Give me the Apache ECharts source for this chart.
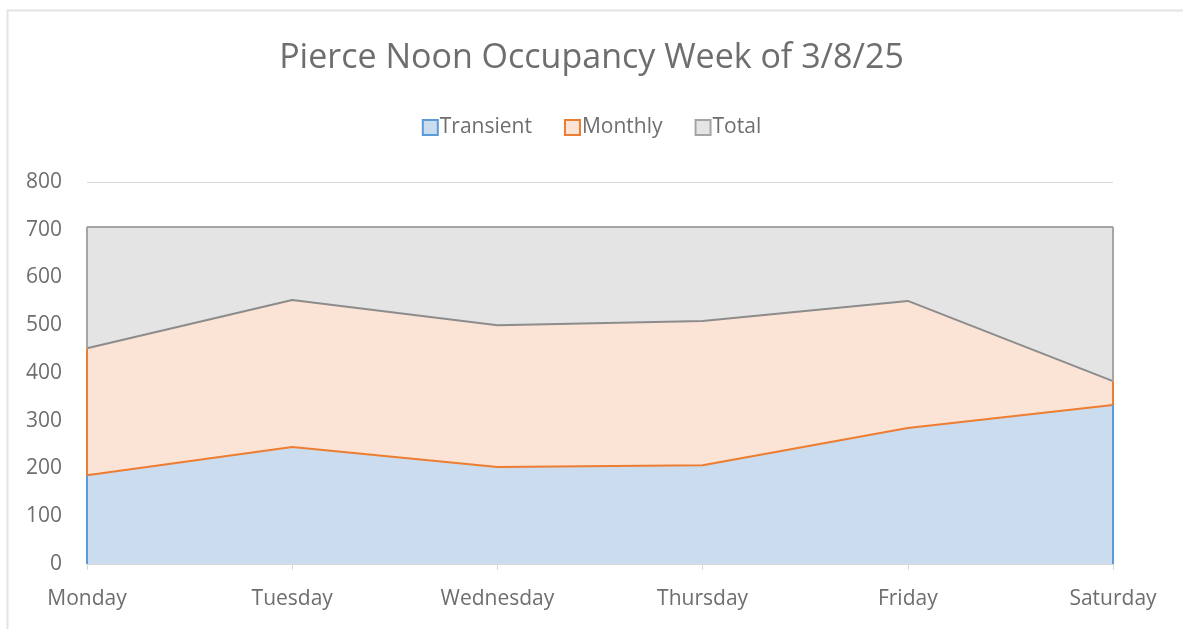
<!DOCTYPE html>
<html>
<head>
<meta charset="utf-8">
<script src="https://cdn.jsdelivr.net/npm/echarts@6/dist/echarts.min.js"></script>
<style>
html,body{margin:0;padding:0;background:#fff;}
#chart{width:1183px;height:629px;}
</style>
</head>
<body>
<div id="chart"></div>
<script>
const categories = ['Monday','Tuesday','Wednesday','Thursday','Friday','Saturday'];
const transient = [186, 245, 203, 207, 285, 333];
const monthly = [266, 308, 297, 302, 266, 50];
const total = [254, 153, 206, 197, 155, 323];
const yTicks = [0,100,200,300,400,500,600,700,800];

const FONT = 'Open Sans';
const last = categories.length - 1;
function edges(lower, upper, color) {
  return {
    silent: true, symbol: ['none','none'], label: {show: false},
    lineStyle: {color: color, width: 2, type: 'solid'},
    data: [
      [{coord: [0, lower[0]]}, {coord: [0, upper[0]]}],
      [{coord: [last, lower[last]]}, {coord: [last, upper[last]]}]
    ]
  };
}
const zero = transient.map(() => 0);
const cum1 = transient.slice();
const cum2 = transient.map((v, i) => v + monthly[i]);
const cum3 = cum2.map((v, i) => v + total[i]);

const chart = echarts.init(document.getElementById('chart'));
chart.setOption({
  animation: false,
  backgroundColor: '#fff',
  graphic: [{
    type: 'rect', left: 5, top: 8, shape: {width: 1300, height: 700},
    style: {fill: 'none', stroke: '#e3e3e3', lineWidth: 2}, silent: true
  }],
  title: {
    text: 'Pierce Noon Occupancy Week of 3/8/25',
    left: 'center', top: 36,
    textStyle: {fontFamily: FONT, fontSize: 34, fontWeight: 'normal', color: '#6e6e6e'}
  },
  legend: {
    top: 112, left: 'center', itemGap: 32, itemWidth: 15, itemHeight: 15,
    icon: 'rect',
    textStyle: {fontFamily: FONT, fontSize: 21, color: '#6e6e6e', padding: [0,0,0,-3]},
    data: [
      {name: 'Transient', itemStyle: {color: '#cbdcef', borderColor: '#5b9bd5', borderWidth: 2}},
      {name: 'Monthly', itemStyle: {color: '#fbe3d6', borderColor: '#ed7d31', borderWidth: 2}},
      {name: 'Total', itemStyle: {color: '#e4e4e4', borderColor: '#a5a5a5', borderWidth: 2}}
    ]
  },
  grid: {left: 87, right: 70, top: 182, bottom: 65},
  xAxis: {
    type: 'category', data: categories, boundaryGap: false,
    axisLine: {lineStyle: {color: '#d9d9d9', width: 1}},
    axisTick: {show: true, length: 6, lineStyle: {color: '#d9d9d9'}},
    axisLabel: {fontFamily: FONT, fontSize: 21, color: '#6e6e6e', margin: 25}
  },
  yAxis: {
    type: 'value', min: 0, max: 800, interval: 100,
    axisLine: {show: false}, axisTick: {show: false},
    axisLabel: {fontFamily: FONT, fontSize: 21, color: '#6e6e6e', margin: 25,
      formatter: v => yTicks.includes(v) ? String(v) : ''},
    splitLine: {lineStyle: {color: '#d9d9d9', width: 1}}
  },
  series: [
    {name: 'Transient', type: 'line', stack: 'a', data: transient, symbol: 'none',
      lineStyle: {color: '#ed7d31', width: 2}, areaStyle: {color: '#cbdcef', opacity: 1},
      itemStyle: {color: '#cbdcef', borderColor: '#5b9bd5'},
      markLine: edges(zero, cum1, '#5b9bd5')},
    {name: 'Monthly', type: 'line', stack: 'a', data: monthly, symbol: 'none',
      lineStyle: {color: '#8c8c8c', width: 2}, areaStyle: {color: '#fbe3d6', opacity: 1},
      itemStyle: {color: '#fbe3d6', borderColor: '#ed7d31'},
      markLine: edges(cum1, cum2, '#ed7d31')},
    {name: 'Total', type: 'line', stack: 'a', data: total, symbol: 'none',
      lineStyle: {color: '#a5a5a5', width: 2}, areaStyle: {color: '#e4e4e4', opacity: 1},
      itemStyle: {color: '#e4e4e4', borderColor: '#a5a5a5'},
      markLine: edges(cum2, cum3, '#a5a5a5')}
  ]
});
</script>
</body>
</html>
